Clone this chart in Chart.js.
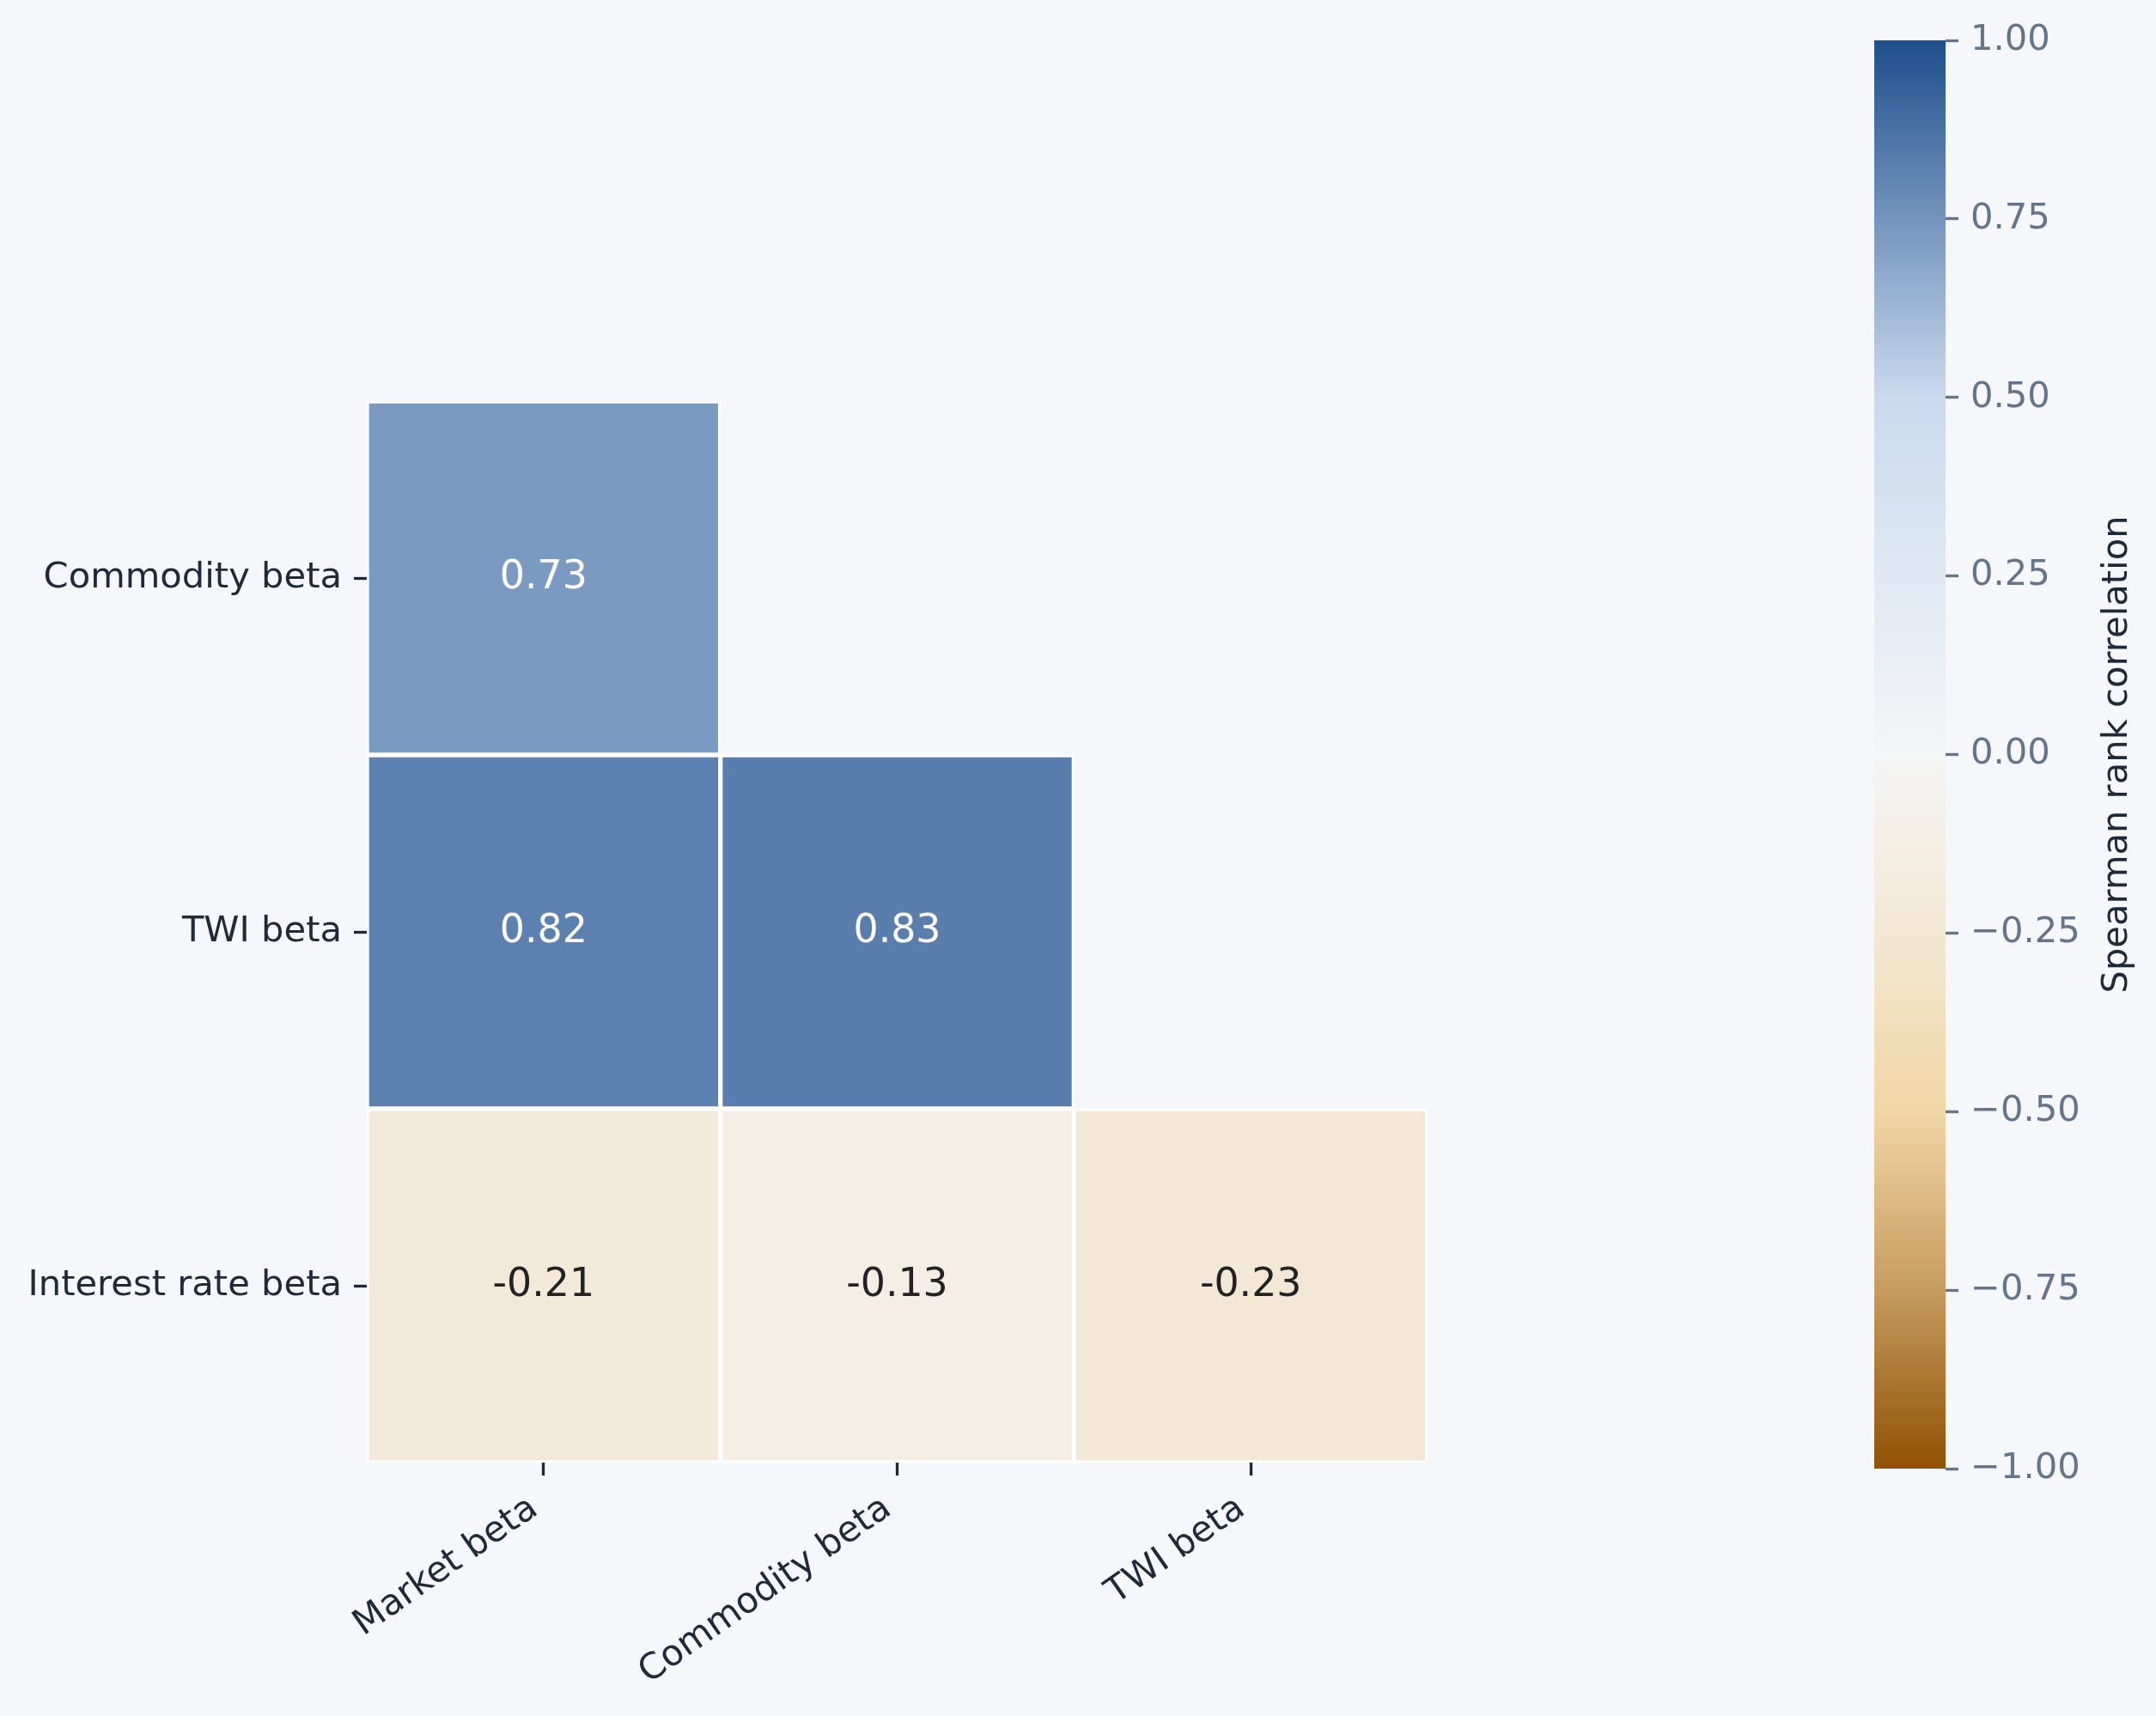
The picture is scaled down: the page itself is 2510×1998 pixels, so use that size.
<!DOCTYPE html>
<html>
<head>
<meta charset="utf-8">
<title>Spearman rank correlation of betas</title>
<script src="https://cdn.jsdelivr.net/npm/chart.js@4.4.1/dist/chart.umd.min.js"></script>
<style>
  html, body { margin: 0; padding: 0; background: #f5f7fa; }
  #wrap { position: relative; width: 2510px; height: 1998px; overflow: hidden; }
  #chart-heatmap { position: absolute; left: 0; top: 0; }
  #chart-colorbar { position: absolute; left: 2182px; top: 0; }
</style>
</head>
<body>
<div id="wrap">
  <canvas id="chart-heatmap" width="1760" height="1998"></canvas>
  <canvas id="chart-colorbar" width="328" height="1998"></canvas>
</div>
<script>
const rowLabels = ['Commodity beta', 'TWI beta', 'Interest rate beta'];
const colLabels = ['Market beta', 'Commodity beta', 'TWI beta'];
// lower triangle only, null = masked cell
const rhoCommodity = [0.73, null, null];
const rhoTwi = [0.82, 0.83, null];
const rhoInterest = [-0.21, -0.13, -0.23];
const cbTicks = [-1, -0.75, -0.5, -0.25, 0, 0.25, 0.5, 0.75, 1];
const cmapStops = [-1, -0.75, -0.5, -0.25, 0, 0.5, 1];
const cmapColors = ['#8f5103', '#c69c5f', '#f2d6a6', '#f3e7d2', '#f5f6f7', '#c9daef', '#1f4e8b'];

const DARK = '#1f2937';
const SLATE = '#64748b';
const TICK_PX = 41.67;
const ANNOT_PX = 45.8;

Chart.defaults.font.family = '"DejaVu Sans", sans-serif';

function hexToRgb(h) {
  const n = parseInt(h.slice(1), 16);
  return [(n >> 16) & 255, (n >> 8) & 255, n & 255];
}

function cmapRgb(v) {
  let i = 0;
  while (i < cmapStops.length - 2 && v > cmapStops[i + 1]) i++;
  const t = (v - cmapStops[i]) / (cmapStops[i + 1] - cmapStops[i]);
  const a = hexToRgb(cmapColors[i]);
  const b = hexToRgb(cmapColors[i + 1]);
  return a.map((x, k) => Math.round(x + (b[k] - x) * t));
}

function cmap(v) {
  return `rgb(${cmapRgb(v).join(',')})`;
}

function textColorFor(v) {
  const [r, g, b] = cmapRgb(v);
  const lum = (0.299 * r + 0.587 * g + 0.114 * b) / 255;
  return lum < 0.6 ? '#ffffff' : '#222222';
}

const rows = [rhoCommodity, rhoTwi, rhoInterest];
const datasets = rows.map((vals, r) => ({
  label: rowLabels[r],
  data: vals.map(v => (v == null ? null : [r, r + 1])),
  rho: vals,
  backgroundColor: vals.map(v => (v == null ? 'rgba(0,0,0,0)' : cmap(v))),
  borderColor: '#ffffff',
  borderWidth: 3,
  borderSkipped: false,
  grouped: false,
  barPercentage: 1,
  categoryPercentage: 1
}));

const annotPlugin = {
  id: 'annot',
  afterDatasetsDraw(chart) {
    const ctx = chart.ctx;
    ctx.save();
    ctx.font = `${ANNOT_PX}px "DejaVu Sans"`;
    ctx.textAlign = 'center';
    ctx.textBaseline = 'middle';
    chart.data.datasets.forEach((ds, i) => {
      chart.getDatasetMeta(i).data.forEach((bar, j) => {
        const v = ds.rho[j];
        if (v == null) return;
        const { x, y } = bar.getCenterPoint();
        ctx.fillStyle = textColorFor(v);
        ctx.fillText(v.toFixed(2), x, y);
      });
    });
    ctx.restore();
  }
};

new Chart(document.getElementById('chart-heatmap'), {
  type: 'bar',
  data: { labels: colLabels, datasets },
  options: {
    responsive: false,
    animation: false,
    events: [],
    layout: { padding: { left: 0, top: 467, right: 98, bottom: 0 } },
    plugins: { legend: { display: false }, tooltip: { enabled: false } },
    scales: {
      x: {
        type: 'category',
        offset: true,
        grid: { offset: false, drawOnChartArea: false, tickLength: 15, tickWidth: 3.3, tickColor: DARK },
        border: { display: false },
        ticks: {
          color: DARK,
          font: { size: TICK_PX },
          maxRotation: 35,
          minRotation: 35,
          padding: 14,
          labelOffset: -11,
          autoSkip: false
        },
        afterFit: (s) => { s.height = 295; }
      },
      y: {
        type: 'linear',
        min: 0,
        max: 3,
        reverse: true,
        afterBuildTicks: (s) => { s.ticks = rowLabels.map((_, i) => ({ value: i + 0.5 })); },
        grid: { drawOnChartArea: false, tickLength: 15, tickWidth: 3.3, tickColor: DARK },
        border: { display: false },
        ticks: { color: DARK, font: { size: TICK_PX }, padding: 14, callback: (v) => rowLabels[Math.floor(v)] },
        afterFit: (s) => { s.width = 427; }
      }
    }
  },
  plugins: [annotPlugin]
});

function cbFill(context) {
  const { chart } = context;
  const y = chart.scales.y;
  if (!chart.chartArea || !y) return cmapColors[0];
  const g = chart.ctx.createLinearGradient(0, y.getPixelForValue(y.min), 0, y.getPixelForValue(y.max));
  cmapStops.forEach((s, i) => g.addColorStop((s - y.min) / (y.max - y.min), cmapColors[i]));
  return g;
}

const cbLabelPlugin = {
  id: 'cbLabel',
  afterDraw(chart) {
    const { ctx, chartArea } = chart;
    ctx.save();
    ctx.translate(chartArea.right + 200, (chartArea.top + chartArea.bottom) / 2);
    ctx.rotate(-Math.PI / 2);
    ctx.font = `${TICK_PX}px "DejaVu Sans"`;
    ctx.fillStyle = DARK;
    ctx.textAlign = 'center';
    ctx.textBaseline = 'middle';
    ctx.fillText('Spearman rank correlation', 0, 0);
    ctx.restore();
  }
};

new Chart(document.getElementById('chart-colorbar'), {
  type: 'bar',
  data: {
    labels: ['rho'],
    datasets: [{ data: [[-1, 1]], backgroundColor: cbFill, borderWidth: 0, barPercentage: 1, categoryPercentage: 1 }]
  },
  options: {
    responsive: false,
    animation: false,
    events: [],
    layout: { padding: { left: 0, top: 47, right: 0, bottom: 288 } },
    plugins: { legend: { display: false }, tooltip: { enabled: false } },
    scales: {
      x: { display: false },
      y: {
        position: 'right',
        min: -1,
        max: 1,
        afterBuildTicks: (s) => { s.ticks = cbTicks.map(v => ({ value: v })); },
        grid: { drawOnChartArea: false, tickLength: 15, tickWidth: 3.3, tickColor: SLATE },
        border: { display: false },
        ticks: {
          color: SLATE,
          font: { size: TICK_PX },
          padding: 14,
          callback: (v) => (v < 0 ? '\u2212' : '') + Math.abs(v).toFixed(2)
        },
        afterFit: (s) => { s.width = 245; }
      }
    }
  },
  plugins: [cbLabelPlugin]
});
</script>
</body>
</html>
